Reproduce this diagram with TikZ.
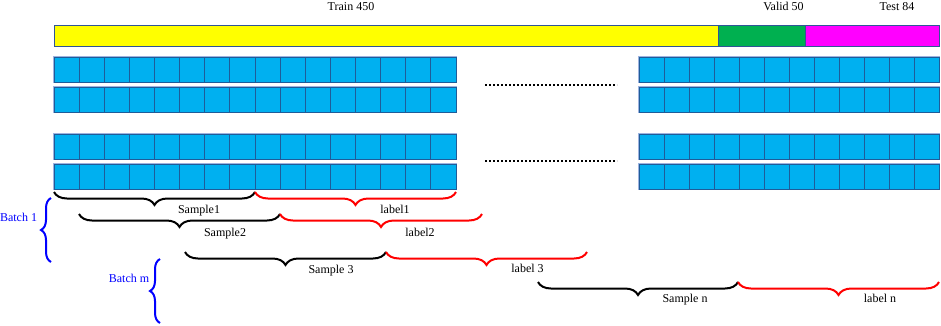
\documentclass[tikz,border=0pt]{standalone}
\usepackage{fontspec}
\setmainfont{Liberation Serif}
\usetikzlibrary{decorations.pathreplacing}
\definecolor{cellblue}{HTML}{00B0F0}
\definecolor{celledge}{HTML}{1F5C99}
\definecolor{rowedge}{HTML}{9DB3E0}
\definecolor{baredge}{HTML}{2F5597}
\definecolor{trainc}{HTML}{FFFF00}
\definecolor{validc}{HTML}{00B050}
\definecolor{testc}{HTML}{FF00FF}
\definecolor{batchblue}{HTML}{0000FF}
\definecolor{labelred}{HTML}{FF0000}
\tikzset{
  cell/.style={draw=celledge, fill=cellblue, line width=0.8pt, minimum width=25.125pt, minimum height=25pt, anchor=north west, inner sep=0pt, outer sep=0pt},
  rcell/.style={cell, minimum width=25pt},
  rowline/.style={draw=rowedge, line width=2.4pt},
  barseg/.style={draw=baredge, line width=1pt, anchor=north west, minimum height=21pt, inner sep=0pt, outer sep=0pt},
  txt/.style={anchor=base, inner sep=0pt, font=\fontsize{12}{14}\selectfont},
  btxt/.style={txt, text=batchblue},
  hbrace/.style={decorate, decoration={brace, mirror, amplitude=13pt}, line width=2pt},
  vbrace/.style={decorate, decoration={brace, amplitude=10pt}, line width=2pt, draw=batchblue},
  dotline/.style={line width=2pt, dash pattern=on 2pt off 2pt},
}
\begin{document}
\begin{tikzpicture}[x=1pt,y=-1pt]
\useasboundingbox (0,0) rectangle (941,325);
% top bar
\node[barseg, fill=trainc, minimum width=664pt] (train) at (54,25) {};
\node[barseg, fill=validc, minimum width=87pt] (valid) at (718,25) {};
\node[barseg, fill=testc, minimum width=134pt] (test) at (805,25) {};
\node[txt] (trainlbl) at (351,10) {Train 450};
\node[txt] (validlbl) at (783.5,10) {Valid 50};
\node[txt] (testlbl) at (897,10) {Test 84};
% grids
\foreach \r/\y in {1/57,2/87,3/134,4/164} {
  \draw[rowline] (54,\y) rectangle ++(402,25);
  \foreach \c in {0,...,15} {
    \node[cell] (L\r-\c) at ({54+25.125*\c},\y) {};
  }
  \draw[rowline] (639,\y) rectangle ++(300,25);
  \foreach \c in {0,...,11} {
    \node[rcell] (R\r-\c) at ({639+25*\c},\y) {};
  }
}
% dotted lines
\coordinate (d1a) at (485,84.5);
\coordinate (d1b) at (617,84.5);
\coordinate (d2a) at (485,161);
\coordinate (d2b) at (617,161);
\draw[dotline] (d1a) -- (d1b);
\draw[dotline] (d2a) -- (d2b);
% brace end points
\coordinate (s1a) at (54,192);  \coordinate (s1b) at (255,192); \coordinate (l1b) at (456,192);
\coordinate (s2a) at (79,214);  \coordinate (s2b) at (280,214); \coordinate (l2b) at (482,214);
\coordinate (s3a) at (185,252); \coordinate (s3b) at (386,252); \coordinate (l3b) at (587,252);
\coordinate (sna) at (538,282); \coordinate (snb) at (738,282); \coordinate (lnb) at (939,282);
\draw[hbrace] (s1a) -- (s1b);
\draw[hbrace, draw=labelred] (s1b) -- (l1b);
\draw[hbrace] (s2a) -- (s2b);
\draw[hbrace, draw=labelred] (s2b) -- (l2b);
\draw[hbrace] (s3a) -- (s3b);
\draw[hbrace, draw=labelred] (s3b) -- (l3b);
\draw[hbrace] (sna) -- (snb);
\draw[hbrace, draw=labelred] (snb) -- (lnb);
\node[txt] (s1) at (199,213) {Sample1};
\node[txt] (l1) at (395,213) {label1};
\node[txt] (s2) at (225,236) {Sample2};
\node[txt] (l2) at (420,236) {label2};
\node[txt] (s3) at (331,273) {Sample 3};
\node[txt] (l3) at (527.5,272) {label 3};
\node[txt] (sn) at (685,302) {Sample n};
\node[txt] (ln) at (880,302) {label n};
% batch braces
\coordinate (b1a) at (51,262); \coordinate (b1b) at (51,198);
\coordinate (bma) at (160,323); \coordinate (bmb) at (160,259);
\draw[vbrace] (b1a) -- (b1b);
\draw[vbrace] (bma) -- (bmb);
\node[btxt] (b1) at (18.5,221) {Batch 1};
\node[btxt] (bm) at (129,282) {Batch m};
\end{tikzpicture}
\end{document}
